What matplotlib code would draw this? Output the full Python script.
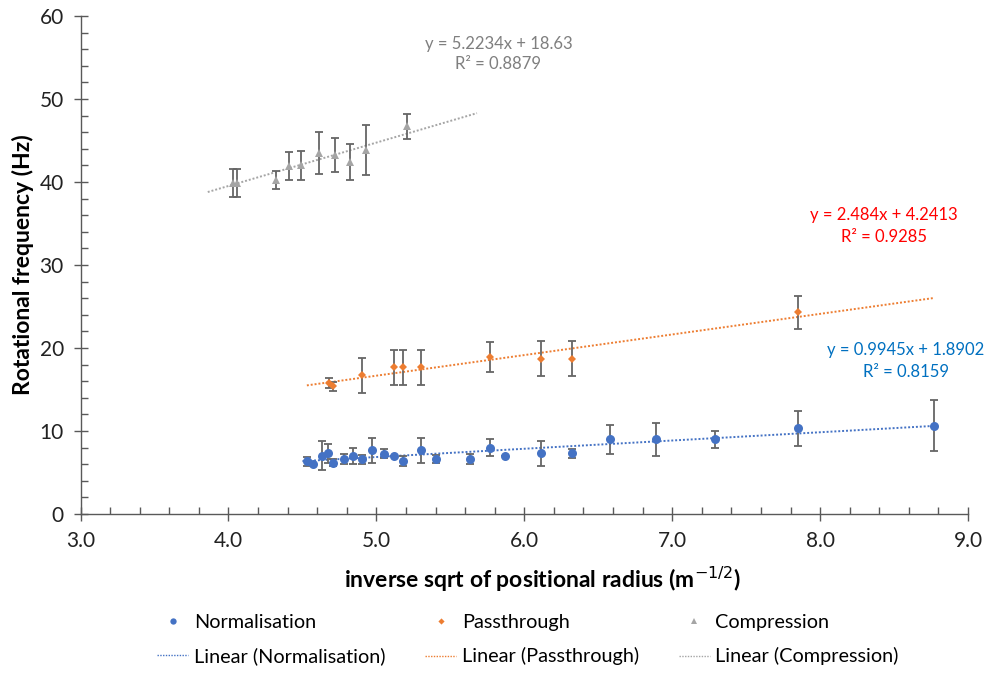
import matplotlib.pyplot as plt
import numpy as np
from matplotlib.ticker import MultipleLocator
from matplotlib.lines import Line2D

plt.rcParams['font.family'] = ['Lato', 'DejaVu Sans']

# Normalisation series
norm_x = [4.53, 4.57, 4.63, 4.67, 4.71, 4.78, 4.84, 4.90, 4.97, 5.05, 5.12, 5.18,
          5.30, 5.40, 5.63, 5.77, 5.87, 6.11, 6.32, 6.58, 6.89, 7.29, 7.85, 8.77]
norm_y = [6.35, 6.05, 7.0, 7.3, 6.2, 6.6, 7.0, 6.6, 7.65, 7.25, 7.0, 6.35,
          7.65, 6.6, 6.6, 8.0, 7.0, 7.3, 7.3, 9.0, 9.0, 9.0, 10.3, 10.65]
norm_err = [0.55, 0.0, 1.75, 1.15, 0.4, 0.6, 1.0, 0.55, 1.55, 0.55, 0.0, 0.6,
            1.55, 0.5, 0.6, 1.0, 0.0, 1.5, 0.55, 1.75, 2.0, 1.0, 2.1, 3.05]

# Passthrough series
pass_x = [4.68, 4.71, 4.90, 5.12, 5.18, 5.30, 5.77, 6.11, 6.32, 7.85]
pass_y = [15.75, 15.4, 16.7, 17.7, 17.7, 17.7, 18.95, 18.7, 18.7, 24.3]
pass_err = [0.6, 0.55, 2.1, 2.1, 2.1, 2.1, 1.8, 2.1, 2.1, 2.0]

# Compression series
comp_x = [4.03, 4.06, 4.32, 4.41, 4.49, 4.61, 4.72, 4.82, 4.93, 5.21]
comp_y = [39.9, 39.9, 40.2, 41.9, 42.0, 43.5, 43.25, 42.4, 43.9, 46.7]
comp_err = [1.7, 1.7, 1.1, 1.7, 1.7, 2.5, 2.1, 2.2, 3.0, 1.5]

# Linear trendlines: slope, intercept, R², x-extent
norm_fit = (0.9945, 1.8902, 0.8159, (4.50, 8.77))
pass_fit = (2.484, 4.2413, 0.9285, (4.53, 8.77))
comp_fit = (5.2234, 18.63, 0.8879, (3.86, 5.68))

BLUE = '#4472C4'
ORANGE = '#ED7D31'
GREY = '#A5A5A5'
ERR = '#666666'

fig = plt.figure(figsize=(9.86, 6.73), dpi=100)
ax = fig.add_axes([0.0817, 0.2363, 0.9001, 0.7399])

series = [
    ('Normalisation', norm_x, norm_y, norm_err, BLUE, 'o', 6.5, norm_fit),
    ('Passthrough', pass_x, pass_y, pass_err, ORANGE, 'D', 4.5, pass_fit),
    ('Compression', comp_x, comp_y, comp_err, GREY, '^', 6.0, comp_fit),
]

marker_handles = []
line_handles = []
for name, xs, ys, es, col, mk, ms, fit in series:
    ax.errorbar(xs, ys, yerr=es, fmt='none', ecolor=ERR, elinewidth=1.3,
                capsize=3.2, capthick=1.3, zorder=2)
    ax.plot(xs, ys, linestyle='none', marker=mk, color=col, markersize=ms,
            markeredgewidth=0, zorder=3)
    slope, icpt, r2, (x0, x1) = fit
    tx = np.array([x0, x1])
    ax.plot(tx, slope * tx + icpt, linestyle=(0, (1, 1)), color=col,
            linewidth=1.4, zorder=1)
    marker_handles.append(Line2D([], [], linestyle='none', marker=mk, color=col,
                                 markersize=ms * 0.7, markeredgewidth=0, label=name))
    line_handles.append(Line2D([], [], linestyle=(0, (1, 1)), color=col,
                               linewidth=1.0, label=f'Linear ({name})'))

# Trendline equations
eq_style = dict(ha='center', va='center', fontsize=12)
ax.text(5.825, 56.6, f'y = {comp_fit[0]}x + {comp_fit[1]}', color='#7F7F7F', **eq_style)
ax.text(5.825, 54.2, f'R² = {comp_fit[2]}', color='#7F7F7F', **eq_style)
ax.text(8.43, 36.0, f'y = {pass_fit[0]}x + {pass_fit[1]}', color='#FF0000', **eq_style)
ax.text(8.43, 33.4, f'R² = {pass_fit[2]}', color='#FF0000', **eq_style)
ax.text(8.58, 19.76, f'y = {norm_fit[0]}x + {norm_fit[1]}', color='#0070C0', **eq_style)
ax.text(8.58, 17.1, f'R² = {norm_fit[2]}', color='#0070C0', **eq_style)

ax.set_xlim(3.0, 9.0)
ax.set_ylim(0, 60)
ax.xaxis.set_major_locator(MultipleLocator(1.0))
ax.xaxis.set_minor_locator(MultipleLocator(0.2))
ax.yaxis.set_major_locator(MultipleLocator(10))
ax.yaxis.set_minor_locator(MultipleLocator(2))
ax.xaxis.set_major_formatter(plt.FormatStrFormatter('%.1f'))

for s in ('top', 'right'):
    ax.spines[s].set_visible(False)
for s in ('left', 'bottom'):
    ax.spines[s].set_color('#595959')
    ax.spines[s].set_linewidth(1.0)

ax.tick_params(which='major', direction='inout', length=10, width=1.0,
               color='#595959', labelsize=15, labelcolor='#222222', pad=7)
ax.tick_params(which='minor', direction='in', length=5, width=1.0, color='#595959')

ax.set_xlabel('inverse sqrt of positional radius (m$^{-1/2}$)', fontsize=16.5,
              fontweight='bold')
ax.xaxis.set_label_coords(0.52, -0.102)
ax.set_ylabel('Rotational frequency (Hz)', fontsize=16.5, fontweight='bold', labelpad=4)

handles = []
for m, l in zip(marker_handles, line_handles):
    handles += [m, l]
fig.legend(handles=handles, ncol=3, loc='center', bbox_to_anchor=(0.5355, 0.0498),
           frameon=False, fontsize=14.3, handlelength=1.55, handletextpad=0.3,
           columnspacing=2.0, labelspacing=0.85)

fig.savefig('out.png', dpi=100)
